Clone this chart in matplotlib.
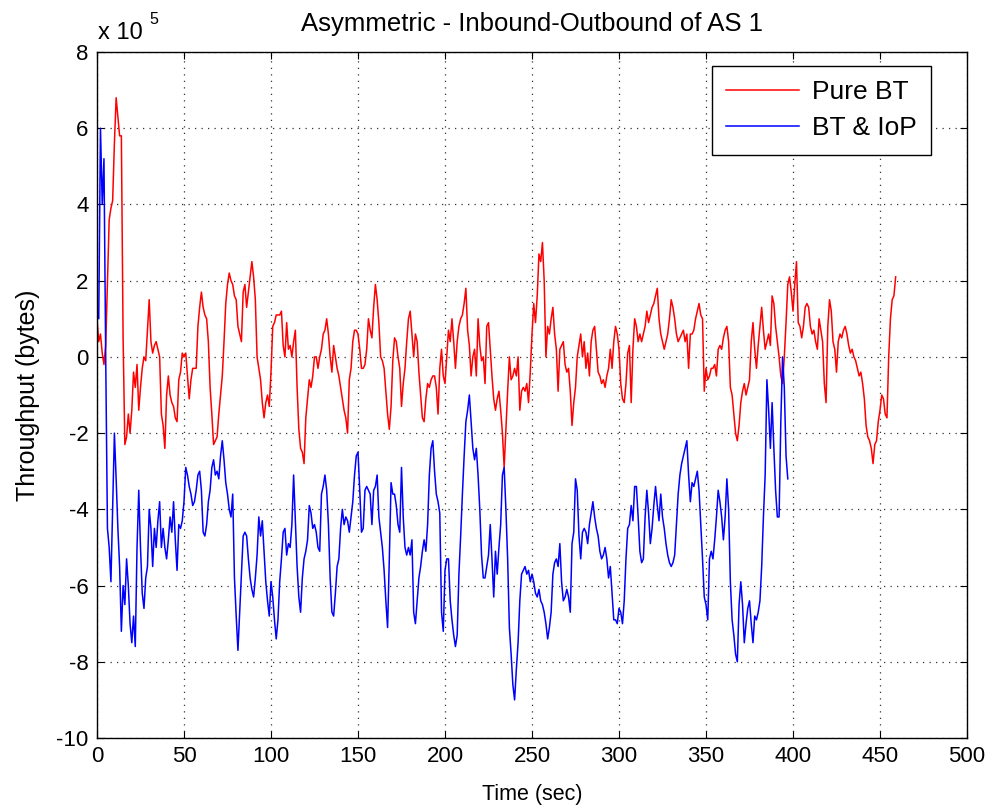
import numpy as np
import matplotlib
matplotlib.use('Agg')
import matplotlib.pyplot as plt
from matplotlib.ticker import FuncFormatter

# ---- data (values in units of 1e5 bytes, one sample per second) ----
pure_bt = [
    1.0, 0.4, 0.6, 0.1, -0.2, 0.3, 2.0, 3.6, 3.9, 4.1,
    5.6, 6.8, 6.3, 5.8, 5.8, 0.5, -2.3, -2.1, -1.5, -2.0,
    -1.4, -0.4, -0.8, -0.2, -1.4, -0.8, -0.3, 0.0, -0.1, 0.7,
    1.5, 0.4, 0.1, 0.3, 0.4, 0.2, 0.0, -1.5, -1.8, -2.4,
    -1.0, -0.5, -1.0, -1.2, -1.3, -1.6, -1.7, -0.6, -0.4, 0.1,
    0.0, 0.1, -0.5, -1.1, -0.6, -0.3, -0.3, -0.3, 0.8, 1.3,
    1.7, 1.3, 1.1, 1.0, 0.4, -0.8, -1.5, -2.3, -2.2, -2.1,
    -1.5, -1.0, -0.5, 0.4, 1.4, 1.9, 2.2, 2.0, 1.9, 1.6,
    1.5, 0.8, 0.6, 0.4, 1.7, 1.9, 1.3, 1.7, 2.1, 2.5,
    2.1, 1.5, 0.0, -0.3, -0.6, -1.2, -1.6, -1.2, -1.0, -1.3,
    -0.4, 0.8, 0.9, 1.1, 1.1, 1.1, 1.2, 0.3, 0.0, 0.9,
    0.2, 0.3, 0.0, 0.4, 0.7, -0.8, -1.9, -2.4, -2.5, -2.8,
    -1.6, -1.1, -0.6, -0.8, -0.5, 0.0, 0.0, -0.3, 0.0, 0.2,
    0.6, 0.7, 1.0, 0.6, 0.0, -0.4, 0.3, 0.0, -0.3, -0.5,
    -0.8, -1.1, -1.4, -1.6, -2.0, -0.6, -0.3, 0.4, 0.7, 0.7,
    0.6, 0.2, -0.3, -0.3, -0.2, 0.2, 1.0, 0.7, 0.5, 1.3,
    1.9, 1.5, 0.9, 0.0, -0.1, -0.3, -0.9, -1.5, -1.9, -1.3,
    -0.1, 0.5, 0.4, 0.0, -0.3, -1.3, -0.7, -0.3, 0.4, 1.0,
    1.2, 0.6, 0.0, 0.6, 0.4, -0.4, -1.0, -1.6, -1.7, -1.1,
    -0.7, -0.8, -0.6, -0.5, -0.5, -0.8, -1.5, -0.3, 0.2, -0.5,
    -0.7, 0.0, 0.7, 0.4, 1.0, 0.4, -0.3, 0.4, 0.8, 1.0,
    1.1, 1.4, 1.8, 0.7, 0.3, -0.5, 0.0, 0.2, -0.5, 1.0,
    0.3, -0.1, 0.0, -0.7, 0.8, 0.9, 0.2, -0.5, -1.1, -1.4,
    -1.1, -0.9, -1.4, -2.0, -2.9, -1.9, -0.9, 0.0, -0.6, -0.5,
    -0.3, -0.5, 0.0, -1.4, -0.9, -0.8, -0.9, -0.7, -1.2, -0.4,
    0.6, 1.4, 0.9, 1.6, 2.7, 2.5, 3.0, 2.0, 0.0, 0.8,
    0.6, 1.0, 1.3, 0.6, 0.2, -0.9, 0.2, 0.3, 0.4, -0.2,
    -0.4, -0.3, -0.9, -1.8, -1.2, -0.8, 0.0, 0.3, 0.6, 0.0,
    0.4, -0.3, 0.1, -0.5, 0.4, 0.7, 0.8, 0.2, -0.4, -0.5,
    -0.7, -0.6, -0.8, -0.5, -0.3, 0.2, -0.3, 0.4, 0.8, 0.6,
    0.2, -0.7, -1.1, -1.2, -0.7, 0.1, 0.3, -1.2, 0.2, 1.0,
    0.8, 0.4, 0.6, 0.4, 0.6, 0.8, 1.2, 0.9, 1.1, 1.3,
    1.4, 1.6, 1.8, 1.0, 0.6, 0.4, 0.2, 0.4, 0.6, 1.0,
    1.5, 1.3, 1.0, 0.6, 0.4, 0.5, 0.6, 0.7, 0.4, 0.6,
    -0.3, 0.6, 0.6, 0.7, 1.0, 1.2, 1.4, 1.1, 1.0, -0.9,
    -0.3, -0.6, -0.5, -0.3, -0.3, -0.2, -0.5, 0.2, 0.3, 0.2,
    0.5, 0.7, 0.8, 0.4, -0.8, -1.0, -1.5, -2.0, -2.2, -1.8,
    -1.2, -0.9, -0.7, -1.0, -0.8, -0.6, 0.4, 0.9, 0.2, -0.3,
    0.3, 0.8, 1.3, 0.7, 0.2, 0.4, 0.6, 0.3, 1.6, 1.4,
    0.8, 0.4, 0.0, -0.5, -0.7, 0.0, 0.9, 1.9, 2.1, 1.7,
    1.2, 1.9, 2.5, 0.9, 0.8, 0.5, 0.8, 1.3, 1.4, 1.3,
    0.8, 0.6, 0.7, 0.4, 0.2, 1.0, 0.7, 0.4, -0.7, -1.2,
    0.8, 1.5, 1.2, 0.4, 0.2, -0.4, 0.4, 0.6, 0.5, 0.7,
    0.8, 0.6, 0.3, 0.1, 0.2, 0.0, -0.1, -0.3, -0.5, -0.4,
    -0.7, -1.1, -1.8, -2.1, -2.2, -2.4, -2.8, -2.3, -2.2, -1.7,
    -1.4, -1.0, -1.1, -1.5, -1.6, 0.0, 1.0, 1.5, 1.6, 2.1,
]

bt_iop = [
    1.2, 1.0, 6.0, 4.0, 5.2, 0.0, -4.5, -5.0, -5.9, -4.0,
    -2.0, -3.2, -4.5, -5.5, -7.2, -6.0, -6.5, -5.3, -6.0, -7.0,
    -7.5, -6.8, -7.6, -5.0, -3.5, -5.0, -6.2, -6.6, -5.8, -5.5,
    -4.0, -4.5, -5.5, -4.5, -5.0, -4.3, -3.8, -5.0, -4.5, -5.0,
    -5.3, -4.8, -4.2, -4.6, -3.8, -4.8, -5.6, -4.4, -4.5, -4.3,
    -3.8, -2.9, -3.1, -3.4, -3.6, -3.9, -3.8, -3.5, -3.1, -3.0,
    -3.5, -4.6, -4.7, -4.4, -3.8, -3.5, -2.9, -2.7, -3.1, -3.0,
    -3.2, -2.6, -2.2, -2.7, -3.3, -3.6, -4.0, -4.2, -3.6, -5.8,
    -6.8, -7.7, -6.7, -5.7, -4.7, -4.6, -4.7, -5.3, -5.8, -6.1,
    -6.3, -5.8, -5.2, -4.2, -4.7, -4.3, -5.1, -5.9, -6.4, -6.8,
    -5.9, -6.3, -6.9, -7.4, -6.9, -5.9, -5.3, -4.6, -4.5, -5.2,
    -4.9, -5.0, -4.4, -3.1, -4.3, -5.5, -6.3, -6.7, -5.8, -5.3,
    -5.1, -4.8, -3.9, -4.1, -4.5, -4.4, -4.6, -5.0, -5.1, -3.6,
    -3.4, -3.1, -3.5, -4.4, -5.8, -6.7, -6.8, -6.2, -5.5, -5.3,
    -4.5, -4.0, -4.4, -4.2, -4.3, -4.6, -4.2, -3.8, -3.1, -2.6,
    -2.5, -3.5, -4.6, -4.5, -3.5, -3.4, -3.5, -3.6, -4.4, -3.5,
    -3.4, -3.1, -4.2, -4.6, -5.0, -5.6, -6.4, -7.1, -5.3, -3.3,
    -3.6, -3.6, -3.9, -4.4, -4.6, -2.9, -4.2, -5.0, -5.2, -5.0,
    -5.2, -4.8, -6.7, -7.0, -6.4, -5.8, -5.5, -5.1, -4.8, -5.1,
    -4.4, -3.1, -2.4, -2.2, -3.0, -3.6, -3.8, -4.1, -6.7, -7.2,
    -5.6, -5.3, -5.3, -6.4, -6.9, -7.3, -7.6, -7.3, -5.7, -4.7,
    -3.6, -2.6, -1.7, -1.4, -1.0, -1.7, -2.4, -2.7, -2.4, -3.1,
    -4.0, -5.2, -5.8, -5.8, -5.5, -5.2, -4.4, -5.3, -6.3, -5.1,
    -5.7, -5.0, -4.4, -3.1, -2.9, -4.0, -5.3, -7.1, -7.8, -8.6,
    -9.0, -8.2, -7.5, -6.4, -5.7, -5.6, -5.5, -5.7, -5.6, -5.9,
    -5.7, -5.9, -6.2, -6.3, -6.1, -6.4, -6.5, -6.7, -7.0, -7.4,
    -7.1, -6.7, -5.7, -5.4, -5.3, -5.5, -4.9, -5.9, -6.4, -6.3,
    -6.1, -6.3, -6.7, -4.9, -4.6, -3.2, -3.5, -4.7, -5.3, -4.6,
    -4.5, -4.6, -4.9, -4.4, -4.1, -3.8, -4.2, -4.5, -4.7, -5.1,
    -5.3, -5.2, -5.0, -5.3, -5.8, -5.5, -6.2, -6.9, -6.9, -7.0,
    -6.6, -6.7, -7.0, -6.4, -5.3, -4.5, -4.4, -3.9, -4.3, -3.4,
    -3.4, -4.2, -5.1, -5.4, -5.3, -4.2, -3.5, -4.1, -4.9, -4.5,
    -3.9, -3.4, -3.9, -4.3, -3.6, -4.2, -4.5, -4.9, -5.2, -5.4,
    -5.5, -5.4, -5.2, -4.4, -3.6, -3.1, -2.8, -2.6, -2.4, -2.2,
    -3.1, -3.8, -3.3, -3.4, -3.2, -3.0, -3.5, -4.4, -5.3, -6.3,
    -6.5, -6.9, -5.3, -5.1, -5.3, -4.8, -4.2, -3.5, -3.8, -4.2,
    -4.8, -4.2, -3.2, -4.0, -5.9, -6.9, -7.3, -7.8, -8.0, -6.5,
    -5.9, -6.5, -7.5, -7.0, -6.6, -6.4, -7.0, -7.5, -6.8, -6.9,
    -6.7, -6.4, -5.5, -4.2, -3.1, -0.6, -1.4, -2.4, -1.2, -2.4,
    -3.5, -4.2, -4.2, -1.7, 0.0, -0.8, -2.6, -3.2,
]

series_labels = ['Pure BT', 'BT & IoP']
x_ticks = [0, 50, 100, 150, 200, 250, 300, 350, 400, 450, 500]
y_ticks = [-10, -8, -6, -4, -2, 0, 2, 4, 6, 8]
SCALE = 1e5

plt.rcParams['font.family'] = ['Liberation Sans', 'DejaVu Sans']

W, H = 989, 806
fig = plt.figure(figsize=(W / 100, H / 100), dpi=100)
fig.patch.set_facecolor('white')
ax = fig.add_axes([97 / W, 1 - 738 / H, (967 - 97) / W, (738 - 52) / H])

t_red = np.arange(len(pure_bt))
t_blue = np.arange(len(bt_iop))
ax.plot(t_red, np.array(pure_bt) * SCALE, color=(1, 0, 0), lw=1.1, label=series_labels[0])
ax.plot(t_blue, np.array(bt_iop) * SCALE, color=(0, 0, 1), lw=1.1, label=series_labels[1])

ax.set_xlim(0, 500)
ax.set_ylim(-10 * SCALE, 8 * SCALE)
ax.set_xticks(x_ticks)
ax.set_yticks([v * SCALE for v in y_ticks])
ax.yaxis.set_major_formatter(FuncFormatter(lambda v, p: f'{v / SCALE:.0f}'))

ax.grid(True, color='#333333', linestyle=(0, (1, 4.2)), linewidth=0.9)
ax.tick_params(direction='in', top=True, right=True, labelsize=16, length=5, width=0.8, pad=6)
for s in ax.spines.values():
    s.set_linewidth(1.0)
    s.set_color('black')

ax.set_title('Asymmetric - Inbound-Outbound of AS 1', fontsize=18.5, pad=15)
ax.set_xlabel('Time (sec)', fontsize=15.5, labelpad=12)
ax.set_ylabel('Throughput (bytes)', fontsize=18, labelpad=12)

fig.text(98 / W, 1 - 39 / H, 'x 10', fontsize=17, ha='left', va='baseline')
fig.text(149 / W, 1 - 24 / H, '5', fontsize=11.5, ha='left', va='baseline')

leg = ax.legend(loc='upper right', bbox_to_anchor=(0.959, 0.98), fancybox=False,
                edgecolor='black', framealpha=1, fontsize=19, handlelength=2.75,
                labelspacing=0.45, borderpad=0.55, borderaxespad=0, handletextpad=0.5)
leg.get_frame().set_linewidth(1.0)

fig.savefig('out.png', dpi=100, facecolor='white')
